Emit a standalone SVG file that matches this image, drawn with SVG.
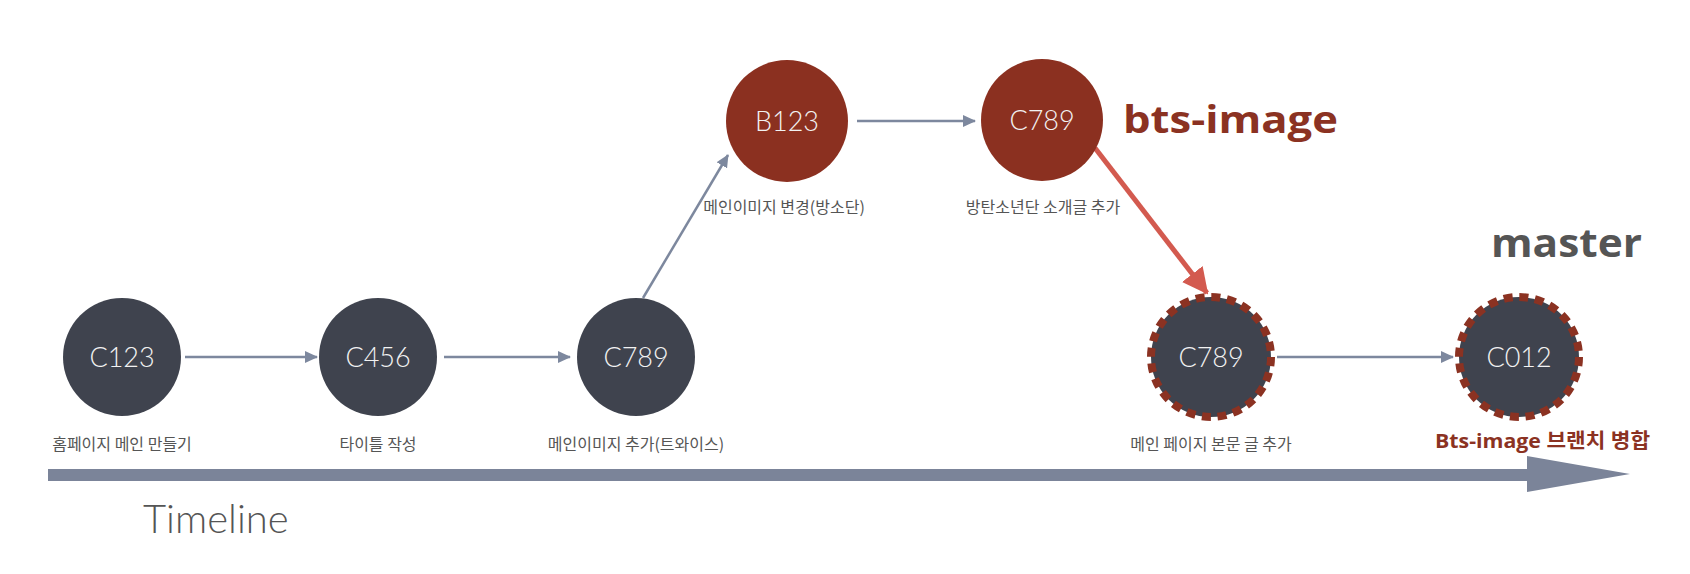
<svg xmlns="http://www.w3.org/2000/svg" width="1690" height="574" viewBox="0 0 1690 574">
<defs>
<style>
.node{fill:#3f434e}
.bnode{fill:#8b3020}
.ring{fill:none;stroke:#8b3222;stroke-width:8;stroke-dasharray:9 6.7}
.nt{font-family:Lato,"Open Sans",sans-serif;font-weight:300;font-size:27px;fill:#f2f2f2;text-anchor:middle}
.lb{font-family:"Noto Sans CJK KR","Noto Sans",sans-serif;font-size:16px;fill:#555;text-anchor:middle}
.conn{fill:none;stroke:#7d889e;stroke-width:2.5}
.red{fill:none;stroke:#d35a4f;stroke-width:5}
.big{font-family:"Open Sans","Noto Sans CJK KR",sans-serif;font-weight:700}
</style>
<marker id="ah" markerUnits="userSpaceOnUse" markerWidth="13" markerHeight="12" refX="12" refY="6" orient="auto">
<path d="M0,0 L13,6 L0,12 z" fill="#7d889e"/>
</marker>
<marker id="rah" markerUnits="userSpaceOnUse" markerWidth="26" markerHeight="26" refX="24" refY="13" orient="auto">
<path d="M0,0 L26,13 L0,26 z" fill="#d35a4f"/>
</marker>
</defs>
<rect width="1690" height="574" fill="#fff"/>

<g id="timeline">
<rect x="48" y="469" width="1481" height="12" fill="#7b8499"/>
<polygon points="1527,456 1630,474 1527,492" fill="#7b8499"/>
<text x="143" y="533" font-family="Lato,'Open Sans',sans-serif" font-weight="300" font-size="40" fill="#555">Timeline</text>
</g>

<g id="connectors">
<line class="conn" x1="185" y1="357" x2="317" y2="357" marker-end="url(#ah)"/>
<line class="conn" x1="444" y1="357" x2="570" y2="357" marker-end="url(#ah)"/>
<line class="conn" x1="643" y1="298" x2="728" y2="155" marker-end="url(#ah)"/>
<line class="conn" x1="857" y1="121" x2="975" y2="121" marker-end="url(#ah)"/>
<line class="conn" x1="1277" y1="357" x2="1453" y2="357" marker-end="url(#ah)"/>
<line class="red" x1="1095" y1="148" x2="1207" y2="293" marker-end="url(#rah)"/>
</g>

<g id="n-c123">
<circle class="node" cx="122" cy="357" r="59"/>
<text class="nt" x="122" y="367">C123</text>
<text class="lb" x="122" y="450">홈페이지 메인 만들기</text>
</g>
<g id="n-c456">
<circle class="node" cx="378" cy="357" r="59"/>
<text class="nt" x="378" y="367">C456</text>
<text class="lb" x="378" y="450">타이틀 작성</text>
</g>
<g id="n-c789a">
<circle class="node" cx="636" cy="357" r="59"/>
<text class="nt" x="636" y="367">C789</text>
<text class="lb" x="636" y="450">메인이미지 추가(트와이스)</text>
</g>
<g id="n-b123">
<circle class="bnode" cx="787" cy="121" r="61"/>
<text class="nt" x="787" y="131">B123</text>
<text class="lb" x="784" y="213">메인이미지 변경(방소단)</text>
</g>
<g id="n-c789b">
<circle class="bnode" cx="1042" cy="120" r="61"/>
<text class="nt" x="1042" y="130">C789</text>
<text class="lb" x="1043" y="213">방탄소년단 소개글 추가</text>
</g>
<g id="label-bts">
<text class="big" x="1123" y="133" font-size="38" fill="#8b3222" textLength="215" lengthAdjust="spacingAndGlyphs">bts-image</text>
</g>
<g id="n-c789c">
<circle class="node" cx="1211" cy="357" r="60"/>
<circle class="ring" cx="1211" cy="357" r="60"/>
<text class="nt" x="1211" y="367">C789</text>
<text class="lb" x="1211" y="450">메인 페이지 본문 글 추가</text>
</g>
<g id="n-c012">
<circle class="node" cx="1519" cy="357" r="60"/>
<circle class="ring" cx="1519" cy="357" r="60"/>
<text class="nt" x="1519" y="367">C012</text>
<text class="big" x="1435" y="448" font-size="20" fill="#8b3222" textLength="215" lengthAdjust="spacingAndGlyphs">Bts-image 브랜치 병합</text>
</g>
<g id="label-master">
<text class="big" x="1491" y="257" font-size="40" fill="#555" textLength="151" lengthAdjust="spacingAndGlyphs">master</text>
</g>
</svg>
